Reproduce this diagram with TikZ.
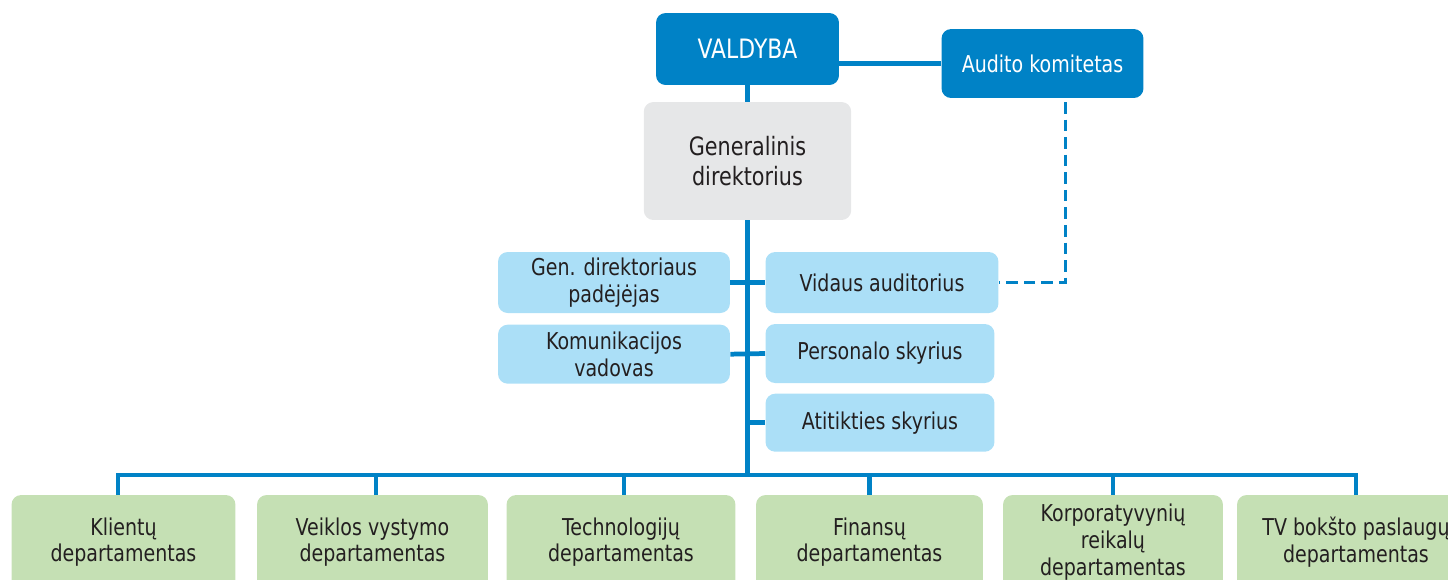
\documentclass[tikz,border=0pt]{standalone}
\usepackage{fontspec}
\setmainfont[FakeStretch=0.82]{DejaVu Sans}
\usepackage{xcolor}
\usepackage{tikz}
\usetikzlibrary{
  positioning
}
\definecolor{boardblue}{RGB}{0,130,198}
\definecolor{unitblue}{RGB}{171,223,247}
\definecolor{deptgreen}{RGB}{197,224,180}
\definecolor{ceogray}{RGB}{230,231,232}
\definecolor{textgray}{RGB}{35,31,32}

\begin{document}
\begin{tikzpicture}[
  x=0.02cm, y=-0.02cm,
  box/.style={rounded corners=5.5pt, align=center, inner sep=2pt,
              text=textgray, font=\fontsize{13.2}{15.2}\selectfont},
  topbox/.style={box, fill=boardblue, text=white},
  unit/.style={box, fill=unitblue},
  dept/.style={box, fill=deptgreen, minimum height=1.88cm},
  link/.style={boardblue, line width=2.7pt},
  dashlink/.style={boardblue, line width=2pt, dash pattern=on 6.6pt off 3.4pt}
]
  \useasboundingbox (0,0) rectangle (1448,579);

  % Board and audit committee
  \node[topbox, minimum width=3.66cm, minimum height=1.44cm,
        font=\fontsize{15.2}{16}\selectfont] (board) at (747.5,49) {VALDYBA};
  \node[topbox, minimum width=4.04cm, minimum height=1.38cm] (audit) at (1042.5,63.5) {Audito komitetas};
  % CEO
  \node[box, fill=ceogray, minimum width=4.15cm, minimum height=2.36cm,
        font=\fontsize{14.4}{16.8}\selectfont] (ceo) at (747.5,161) {Generalinis\\direktorius};

  % Staff units, left
  \node[unit, minimum width=4.64cm, minimum height=1.22cm] (assist) at (614,282.5) {Gen. direktoriaus\\pad\.{e}j\.{e}jas};
  \node[unit, minimum width=4.64cm, minimum height=1.18cm, below=0.22cm of assist] (comm) {Komunikacijos\\vadovas};
  % Staff units, right
  \node[unit, minimum width=4.66cm, minimum height=1.22cm] (auditor) at (882,282.5) {Vidaus auditorius};
  \node[unit, minimum width=4.58cm, minimum height=1.18cm] (staff) at (880,353.5) {Personalo skyrius};
  \node[unit, minimum width=4.58cm, minimum height=1.16cm, below=0.2cm of staff] (compliance) {Atitikties skyrius};

  % Departments
  \node[dept, minimum width=4.48cm] (clients) at (123.5,542) {Klient\k{u}\\departamentas};
  \node[dept, minimum width=4.62cm] (business) at (372.5,542) {Veiklos vystymo\\departamentas};
  \node[dept, minimum width=4.58cm] (tech) at (621,542) {Technologij\k{u}\\departamentas};
  \node[dept, minimum width=4.54cm] (finance) at (869.5,542) {Finans\k{u}\\departamentas};
  \node[dept, minimum width=4.40cm] (corporate) at (1113,542) {Korporatyvyni\k{u}\\reikal\k{u}\\departamentas};
  \node[dept, minimum width=4.76cm] (tower) at (1356,542) {TV bok\v{s}to paslaug\k{u}\\departamentas};

  \coordinate (bar) at (747.5,475);
  \coordinate (dashtop) at (1065.5,102);

  % Main line
  \draw[link] (board) -- (ceo);
  \draw[link] (ceo) -- (bar);
  \draw[link] (audit.west) -- (audit.west -| board.east);
  \draw[link] (assist.east) -- (auditor.west);
  \draw[link] (comm.east) -- (staff.west);
  \draw[link] (compliance.west) -- (compliance.west -| bar);

  % Internal audit reports to committee
  \draw[dashlink] (dashtop) |- (auditor.east);

  % Departments bar
  \draw[link] ([xshift=-0.11cm]clients.north) |- (bar) -| (tower.north);
  \draw[link] ([xshift=0.07cm]business.north) -- ([xshift=0.07cm]business.north |- bar);
  \draw[link] ([xshift=0.06cm]tech.north) -- ([xshift=0.06cm]tech.north |- bar);
  \draw[link] (finance.north) -- (finance.north |- bar);
  \draw[link] (corporate.north) -- (corporate.north |- bar);
\end{tikzpicture}
\end{document}
